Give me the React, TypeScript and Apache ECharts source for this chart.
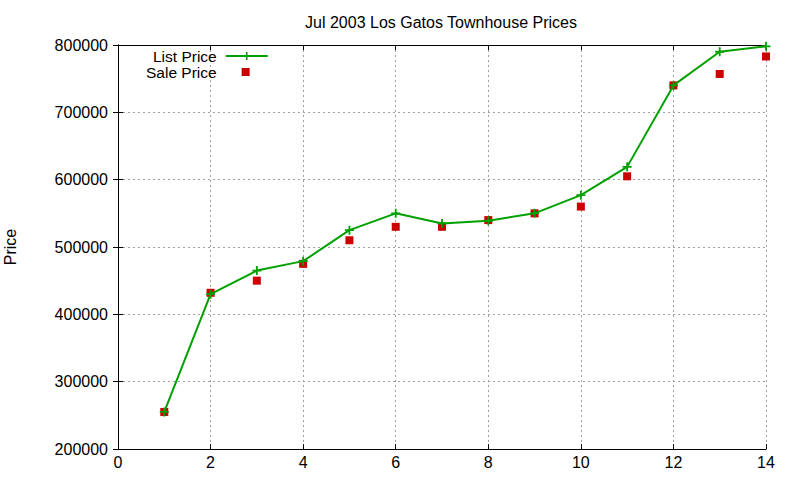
import React, { useEffect, useRef } from "react";
import * as echarts from "echarts";

const titleText = "Jul 2003 Los Gatos Townhouse Prices";
const yAxisName = "Price";
const seriesNames = ["List Price", "Sale Price"];
const xValues = [1, 2, 3, 4, 5, 6, 7, 8, 9, 10, 11, 12, 13, 14];
const listPrices = [255000, 430000, 465000, 479000, 525000, 550000, 535000, 539000, 550000, 577000, 619000, 740000, 790000, 798000];
const salePrices = [255000, 432000, 450000, 475000, 510000, 530000, 530000, 540000, 550000, 560000, 605000, 740000, 757000, 783000];

const FONT = "Liberation Sans, Arial, sans-serif";
const crossPath = "path://M4,0h2v4h4v2h-4v4h-2v-4h-4v-2h4z";

export default function App() {
  const ref = useRef<HTMLDivElement>(null);
  useEffect(() => {
    if (!ref.current) return;
    const chart = echarts.init(ref.current, null, { renderer: "svg" });
    const listData = xValues.map((x, i) => [x, listPrices[i]]);
    const saleData = xValues.map((x, i) => [x, salePrices[i]]);
    const gridLine = { show: true, lineStyle: { color: "#a0a0a0", type: [2, 3], width: 1 } };
    const axisLine = { show: true, lineStyle: { color: "#000", width: 1 } };
    const axisTick = { show: true, inside: true, length: 5, lineStyle: { color: "#000" } };
    chart.setOption({
      animation: false,
      backgroundColor: "#fff",
      title: {
        text: titleText,
        left: 441,
        top: 14,
        padding: 0,
        textAlign: "center",
        textStyle: { fontFamily: FONT, fontSize: 16, fontWeight: "normal", color: "#000" },
      },
      legend: [
        {
          data: [seriesNames[0]],
          left: 153,
          top: 48,
          padding: 0,
          align: "right",
          itemWidth: 42,
          itemHeight: 10,
          textStyle: { fontFamily: FONT, fontSize: 15.5, color: "#000", padding: [0, 4, 0, 0] },
        },
        {
          data: [{ name: seriesNames[1], icon: "rect" }],
          left: 146,
          top: 64,
          padding: 0,
          align: "right",
          itemWidth: 8,
          itemHeight: 8,
          textStyle: { fontFamily: FONT, fontSize: 15.5, color: "#000", padding: [0, 20, 0, 0] },
        },
      ],
      grid: { left: 118, right: 34, top: 45, bottom: 31, containLabel: false, outerBoundsMode: "none" },
      xAxis: [
        {
          type: "value",
          min: 0,
          max: 14,
          interval: 2,
          axisLine,
          axisTick,
          splitLine: gridLine,
          axisLabel: { margin: 5, fontFamily: FONT, fontSize: 16, color: "#000" },
        },
        {
          type: "value",
          position: "top",
          min: 0,
          max: 14,
          interval: 2,
          axisLine,
          axisTick,
          splitLine: { show: false },
          axisLabel: { show: false },
        },
      ],
      yAxis: [
        {
          type: "value",
          min: 200000,
          max: 800000,
          interval: 100000,
          name: yAxisName,
          nameLocation: "middle",
          nameGap: 100,
          nameRotate: 90,
          nameTextStyle: { fontFamily: FONT, fontSize: 16, color: "#000" },
          axisLine,
          axisTick,
          splitLine: gridLine,
          axisLabel: {
            margin: 10,
            fontFamily: FONT,
            fontSize: 16,
            color: "#000",
            formatter: (v: number) => String(v),
          },
        },
        {
          type: "value",
          position: "right",
          min: 200000,
          max: 800000,
          interval: 100000,
          axisLine,
          axisTick,
          splitLine: { show: false },
          axisLabel: { show: false },
        },
      ],
      series: [
        {
          name: seriesNames[0],
          type: "line",
          data: listData,
          symbol: crossPath,
          symbolSize: 9,
          showAllSymbol: true,
          itemStyle: { color: "#00a000", opacity: 1 },
          lineStyle: { color: "#00a000", width: 2 },
        },
        {
          name: seriesNames[1],
          type: "scatter",
          data: saleData,
          symbol: "rect",
          symbolSize: 8,
          itemStyle: { color: "#cc0000", opacity: 1 },
        },
      ],
    });
    return () => chart.dispose();
  }, []);
  return (
    <div
      ref={ref}
      style={{ position: "fixed", left: 0, top: 0, width: 800, height: 480 }}
    />
  );
}
